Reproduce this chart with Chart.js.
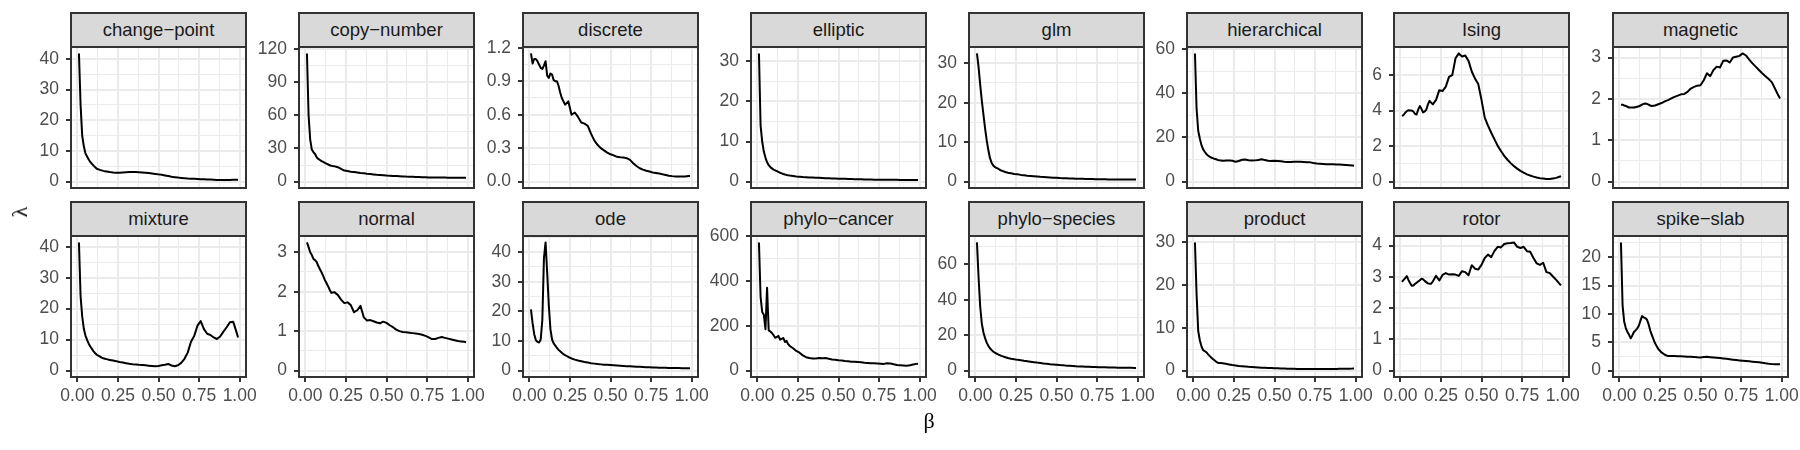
<!DOCTYPE html>
<html>
<head>
<meta charset="utf-8">
<script src="https://cdn.jsdelivr.net/npm/chart.js@4.4.1/dist/chart.umd.min.js"></script>
<style>
  html, body { margin: 0; padding: 0; background: #ffffff; }
  #page { position: relative; width: 1800px; height: 450px; overflow: hidden; font-family: "Liberation Sans", Arial, sans-serif; }
  .panel { position: absolute; }
  .strip { position: absolute; box-sizing: border-box; background: #D9D9D9; border: 2px solid #333333; color: #1A1A1A; font-size: 18.5px; display: flex; align-items: center; justify-content: center; white-space: nowrap; }
  .axis-title { position: absolute; font-family: "Liberation Serif", "DejaVu Serif", serif; font-size: 22px; color: #000000; line-height: 1; }
</style>
</head>
<body>
<div id="page"></div>
<script>
// beta grid shared by every panel
const beta = [0.01,0.02,0.03,0.04,0.05,0.06,0.07,0.08,0.09,0.10,0.11,0.12,0.13,0.14,0.15,0.16,0.17,0.18,0.19,0.20,
  0.22,0.24,0.26,0.28,0.30,0.32,0.34,0.36,0.38,0.40,0.42,0.44,0.46,0.48,0.50,0.52,0.54,0.56,0.58,0.60,
  0.62,0.64,0.66,0.68,0.70,0.72,0.74,0.76,0.78,0.80,0.82,0.84,0.86,0.88,0.90,0.92,0.94,0.96,0.98,0.99];

// lambda per model, one value per beta
const changePoint = [41.8,25,15,11.5,9.2,8.2,7.2,6.4,5.8,5.2, 4.7,4.2,4.0,3.8,3.65,3.5,3.4,3.3,3.2,3.1,
  2.95,2.9,2.9,3.0,3.05,3.1,3.1,3.1,3.05,3.0,2.9,2.8,2.65,2.5,2.35,2.2,2.0,1.8,1.6,1.45,
  1.3,1.2,1.1,1.0,0.95,0.9,0.85,0.8,0.75,0.7,0.65,0.6,0.55,0.55,0.55,0.55,0.55,0.6,0.6,0.6];
const copyNumber = [116,60,38,29,26.5,25,22,20.5,19.5,18.5, 17.8,17,16.2,15.5,14.8,14.3,14,13.8,13.4,13,
  11.5,10,9.5,9,8.6,8.2,7.8,7.5,7.1,6.8,6.5,6.2,6.0,5.8,5.5,5.3,5.1,5.0,4.9,4.7,
  4.5,4.4,4.3,4.2,4.1,4.0,3.9,3.8,3.8,3.7,3.7,3.6,3.6,3.5,3.5,3.5,3.5,3.5,3.5,3.5];
const discrete = [1.15,1.06,1.10,1.10,1.08,1.05,1.02,1.01,1.04,1.08, 0.95,0.93,0.97,0.96,0.91,0.90,0.90,0.86,0.80,0.75,
  0.69,0.72,0.60,0.62,0.58,0.53,0.52,0.50,0.43,0.37,0.33,0.30,0.28,0.26,0.245,0.235,0.222,0.218,0.216,0.21,
  0.195,0.165,0.14,0.12,0.107,0.097,0.09,0.082,0.077,0.072,0.065,0.06,0.053,0.049,0.046,0.045,0.045,0.045,0.05,0.051];
const elliptic = [32,14,10,7.5,6,4.8,4.1,3.6,3.3,3.0, 2.8,2.6,2.4,2.2,2.05,1.9,1.78,1.67,1.58,1.5,
  1.38,1.27,1.2,1.13,1.08,1.04,1.0,0.97,0.93,0.9,0.86,0.83,0.8,0.77,0.74,0.72,0.69,0.66,0.63,0.61,
  0.59,0.56,0.54,0.52,0.5,0.49,0.48,0.47,0.46,0.45,0.44,0.43,0.43,0.42,0.42,0.41,0.41,0.4,0.4,0.4];
const glm = [32.5,29,24.5,20.5,17,13.5,10.5,8,6,4.8, 4.1,3.7,3.5,3.3,3.0,2.8,2.65,2.5,2.35,2.25,
  2.1,1.95,1.85,1.7,1.6,1.5,1.42,1.35,1.28,1.2,1.15,1.1,1.05,1.0,0.95,0.9,0.87,0.84,0.8,0.77,
  0.74,0.71,0.69,0.67,0.65,0.63,0.62,0.6,0.59,0.57,0.56,0.55,0.54,0.53,0.52,0.51,0.5,0.5,0.5,0.5];
const hierarchical = [58,33,23,19.5,16.5,14.7,13.5,12.5,11.8,11.3, 10.9,10.6,10.3,10.1,9.8,9.6,9.5,9.4,9.45,9.5,
  9.6,9.4,9.0,9.3,9.9,10.0,9.7,9.5,9.6,9.8,10.1,9.8,9.4,9.3,9.4,9.3,9.2,9.0,8.9,8.9,
  9.0,9.0,9.0,8.9,8.8,8.7,8.4,8.2,8.1,8.0,7.9,7.9,7.8,7.7,7.7,7.6,7.5,7.4,7.3,7.2];
const ising = [3.70,3.75,3.88,3.97,4.02,4.01,4.0,3.95,3.82,3.78, 4.05,4.25,4.1,3.90,3.95,4.05,4.35,4.55,4.45,4.35,
  4.6,5.15,5.1,5.35,5.9,6.0,6.95,7.22,7.05,7.1,6.8,6.2,5.8,5.5,4.6,3.6,3.15,2.75,2.38,2.01,
  1.72,1.45,1.23,1.04,0.87,0.73,0.6,0.5,0.41,0.34,0.28,0.23,0.19,0.17,0.15,0.15,0.18,0.21,0.27,0.3];
const magnetic = [1.86,1.86,1.84,1.83,1.81,1.79,1.79,1.79,1.79,1.80, 1.81,1.82,1.84,1.86,1.88,1.89,1.88,1.86,1.84,1.83,
  1.84,1.87,1.90,1.94,1.97,2.01,2.05,2.08,2.11,2.12,2.17,2.25,2.29,2.32,2.33,2.45,2.62,2.55,2.7,2.78,
  2.76,2.92,2.93,2.88,3.0,3.02,3.04,3.1,3.05,2.95,2.86,2.78,2.7,2.62,2.55,2.48,2.4,2.24,2.08,2.01];
const mixture = [41.4,24,17.5,13.5,11.3,9.9,8.7,7.8,7.0,6.2, 5.6,5.1,4.8,4.5,4.2,4.0,3.85,3.7,3.55,3.45,
  3.25,3.05,2.8,2.6,2.4,2.2,2.05,1.95,1.85,1.8,1.72,1.6,1.5,1.42,1.5,1.7,1.9,2.15,1.65,1.4,
  1.7,2.5,3.8,5.8,9.3,11.2,14.5,16.0,13.4,11.9,11.5,10.7,10.2,11.0,12.6,14.0,15.6,15.8,12.5,10.7];
const normal = [3.25,3.13,3.0,2.93,2.83,2.80,2.75,2.65,2.57,2.49, 2.4,2.3,2.22,2.14,2.05,1.97,1.98,1.99,1.95,1.92,
  1.8,1.71,1.73,1.66,1.48,1.53,1.64,1.35,1.27,1.28,1.25,1.22,1.2,1.24,1.21,1.15,1.1,1.04,1.0,0.98,
  0.97,0.96,0.95,0.94,0.93,0.91,0.88,0.84,0.8,0.8,0.83,0.85,0.83,0.81,0.79,0.77,0.75,0.74,0.73,0.72];
const ode = [20.7,16,12.3,10.3,9.7,9.5,10.5,17,38,43.3, 33,22,14,10.5,9.2,8.4,7.7,7.0,6.5,6.0,
  5.2,4.6,4.1,3.7,3.4,3.15,2.9,2.7,2.5,2.35,2.2,2.1,2.0,1.95,1.9,1.8,1.72,1.65,1.58,1.5,
  1.44,1.38,1.32,1.26,1.2,1.16,1.12,1.08,1.04,1.0,0.97,0.94,0.91,0.88,0.86,0.84,0.82,0.81,0.8,0.8];
const phyloCancer = [573,330,262,250,185,370,180,175,168,158, 147,150,155,138,142,146,128,133,118,110,
  100,88,80,68,60,56,54,54,56,55,56,53,50,48,46,45,43,42,40,39,
  38,37,35,34,33,33,32,31,30,33,32,28,25,24,23,22,24,27,30,31];
const phyloSpecies = [72.3,52.5,36,26.5,21.5,18.3,15.8,14,12.6,11.6, 10.8,10.1,9.6,9.1,8.7,8.3,8.0,7.7,7.4,7.1,
  6.7,6.35,6.05,5.8,5.5,5.25,5.0,4.75,4.5,4.3,4.05,3.85,3.6,3.45,3.3,3.1,2.95,2.8,2.7,2.6,
  2.45,2.35,2.26,2.18,2.1,2.03,1.96,1.9,1.86,1.82,1.78,1.74,1.7,1.67,1.64,1.6,1.57,1.55,1.5,1.5];
const product = [30,17.9,9.3,7.1,5.7,4.8,4.55,4.3,3.85,3.45, 3.05,2.7,2.4,2.1,1.85,1.8,1.75,1.7,1.65,1.6,
  1.45,1.3,1.2,1.1,1.02,0.95,0.88,0.83,0.78,0.73,0.69,0.65,0.62,0.58,0.55,0.52,0.49,0.47,0.45,0.43,
  0.42,0.4,0.39,0.38,0.38,0.37,0.37,0.37,0.37,0.37,0.38,0.38,0.39,0.4,0.41,0.42,0.44,0.46,0.48,0.5];
const rotor = [2.84,2.9,2.96,3.02,2.9,2.8,2.71,2.72,2.77,2.81, 2.85,2.89,2.94,2.92,2.87,2.83,2.79,2.78,2.78,2.85,
  3.03,2.88,3.06,3.12,3.07,3.08,3.07,3.03,3.18,3.15,3.05,3.37,3.26,3.23,3.38,3.6,3.71,3.63,3.83,3.96,
  3.94,4.05,4.07,4.08,4.1,3.96,3.92,3.96,3.82,3.8,3.6,3.43,3.38,3.45,3.15,3.12,3.01,2.9,2.78,2.73];
const spikeSlab = [22.6,11.5,8.6,7.5,6.8,6.3,5.7,6.2,6.8,7.1, 7.4,7.9,8.8,9.6,9.4,9.25,9.0,8.2,7.1,6.3,
  4.8,3.8,3.2,2.8,2.56,2.58,2.57,2.55,2.53,2.5,2.46,2.42,2.38,2.34,2.32,2.38,2.42,2.36,2.3,2.25,
  2.2,2.14,2.08,2.0,1.93,1.86,1.8,1.74,1.68,1.63,1.58,1.53,1.47,1.38,1.28,1.2,1.14,1.12,1.12,1.13];

const panelNames = ["change\u2212point", "copy\u2212number", "discrete", "elliptic", "glm", "hierarchical", "Ising", "magnetic",
  "mixture", "normal", "ode", "phylo\u2212cancer", "phylo\u2212species", "product", "rotor", "spike\u2212slab"];
const series = [changePoint, copyNumber, discrete, elliptic, glm, hierarchical, ising, magnetic,
  mixture, normal, ode, phyloCancer, phyloSpecies, product, rotor, spikeSlab];
const yTickStep = [10, 30, 0.3, 10, 10, 20, 2, 1, 10, 1, 10, 200, 20, 10, 1, 5];
const xTickStep = 0.25;

// layout of the facet grid (pixels)
const colLeft = [71, 299, 523, 751, 969, 1187, 1394, 1613];
const stripTop = [12, 201];
const plotTop = [47, 236];
const PANEL_W = 175, PANEL_H = 141;
const AXW = 64, PAD_T = 20, PAD_R = 20, PAD_B = 20, X_AXIS_H = 40;
const TICK_FONT = 17.5;

Chart.defaults.font.family = '"Liberation Sans", Arial, sans-serif';

const page = document.getElementById('page');

// ggplot-like panel border drawn over everything
const panelBorder = {
    id: 'panelBorder',
    afterDraw(chart) {
        const { ctx, chartArea: a } = chart;
        ctx.save();
        ctx.strokeStyle = '#333333';
        ctx.lineWidth = 2;
        ctx.strokeRect(a.left, a.top, a.right - a.left, a.bottom - a.top);
        ctx.restore();
    }
};

// major breaks every step, minor ones halfway between
function buildTicks(min, max, step) {
    const half = step / 2;
    const out = [];
    const start = Math.ceil(min / half - 1e-9);
    const end = Math.floor(max / half + 1e-9);
    for (let k = start; k <= end; k++) {
        out.push({ value: +(k * half).toFixed(10), isMajor: k % 2 === 0 });
    }
    return out;
}

function gridFor(showTicks) {
    return {
        color: '#EBEBEB',
        lineWidth: ctx => (ctx.tick && ctx.tick.isMajor) ? 2 : 1,
        drawTicks: showTicks,
        tickLength: 5,
        tickWidth: 2,
        tickColor: ctx => (ctx.tick && ctx.tick.isMajor) ? '#333333' : 'rgba(0,0,0,0)'
    };
}

function expandRange(lo, hi) {
    const span = hi - lo;
    return [lo - 0.05 * span, hi + 0.05 * span];
}

function makePanel(i) {
    const row = Math.floor(i / 8);
    const col = i % 8;
    const bottomRow = row === 1;
    const values = series[i];
    const step = yTickStep[i];

    const [yLo, yHi] = expandRange(Math.min(0, ...values), Math.max(...values));
    const [xLo, xHi] = expandRange(beta[0], beta[beta.length - 1]);
    const xh = bottomRow ? X_AXIS_H : 0;

    // strip label
    const strip = document.createElement('div');
    strip.className = 'strip';
    strip.style.left = (colLeft[col] - 1) + 'px';
    strip.style.top = stripTop[row] + 'px';
    strip.style.width = (PANEL_W + 2) + 'px';
    strip.style.height = (plotTop[row] - stripTop[row] + 1) + 'px';
    strip.textContent = panelNames[i];
    page.appendChild(strip);

    // chart box
    const box = document.createElement('div');
    box.className = 'panel';
    box.style.left = (colLeft[col] - AXW) + 'px';
    box.style.top = (plotTop[row] - PAD_T) + 'px';
    box.style.width = (AXW + PANEL_W + PAD_R) + 'px';
    box.style.height = (PAD_T + PANEL_H + xh + PAD_B) + 'px';
    const canvas = document.createElement('canvas');
    box.appendChild(canvas);
    page.appendChild(box);

    new Chart(canvas, {
        type: 'line',
        data: {
            datasets: [{
                data: beta.map((b, k) => ({ x: b, y: values[k] })),
                borderColor: '#000000',
                borderWidth: 2,
                borderJoinStyle: 'round',
                pointRadius: 0,
                tension: 0,
                fill: false
            }]
        },
        options: {
            responsive: true,
            maintainAspectRatio: false,
            animation: false,
            devicePixelRatio: 1,
            events: [],
            layout: { padding: { left: 0, top: PAD_T, right: PAD_R, bottom: PAD_B } },
            plugins: { legend: { display: false }, tooltip: { enabled: false } },
            scales: {
                x: {
                    type: 'linear',
                    min: xLo,
                    max: xHi,
                    bounds: 'data',
                    afterBuildTicks: s => { s.ticks = buildTicks(xLo, xHi, xTickStep); },
                    afterFit: s => { s.height = xh; },
                    grid: gridFor(bottomRow),
                    border: { display: false },
                    ticks: {
                        display: bottomRow,
                        autoSkip: false,
                        maxRotation: 0,
                        minRotation: 0,
                        padding: 4,
                        color: '#4D4D4D',
                        font: { size: TICK_FONT },
                        callback: (v, idx, ticks) => ticks[idx].isMajor ? v.toFixed(2) : ''
                    }
                },
                y: {
                    type: 'linear',
                    min: yLo,
                    max: yHi,
                    bounds: 'data',
                    afterBuildTicks: s => { s.ticks = buildTicks(yLo, yHi, step); },
                    afterFit: s => { s.width = AXW; },
                    grid: gridFor(true),
                    border: { display: false },
                    ticks: {
                        autoSkip: false,
                        padding: 7,
                        color: '#4D4D4D',
                        font: { size: TICK_FONT },
                        callback: (v, idx, ticks) => {
                            if (!ticks[idx].isMajor) return '';
                            return step < 1 ? v.toFixed(1) : String(Math.round(v));
                        }
                    }
                }
            }
        },
        plugins: [panelBorder]
    });
}

series.forEach((_, i) => makePanel(i));

// axis titles
const yTitle = document.createElement('div');
yTitle.className = 'axis-title';
yTitle.textContent = '\u03BB';
yTitle.style.left = '20px';
yTitle.style.top = '212px';
yTitle.style.transform = 'translate(-50%, -50%) rotate(-90deg)';
page.appendChild(yTitle);

const xTitle = document.createElement('div');
xTitle.className = 'axis-title';
xTitle.textContent = '\u03B2';
xTitle.style.left = '929px';
xTitle.style.top = '421px';
xTitle.style.transform = 'translate(-50%, -50%)';
page.appendChild(xTitle);
</script>
</body>
</html>
